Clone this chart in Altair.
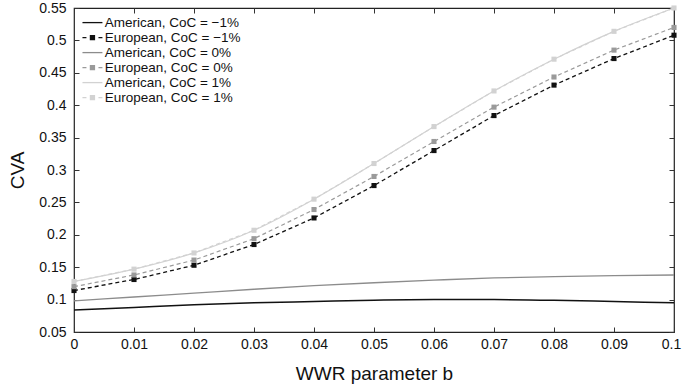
import altair as alt
import pandas as pd

# ---- data ----
b_values = [0.0, 0.01, 0.02, 0.03, 0.04, 0.05, 0.06, 0.07, 0.08, 0.09, 0.1]
american_m1 = [0.084, 0.088, 0.092, 0.095, 0.097, 0.099, 0.100, 0.100, 0.099, 0.097, 0.095]
european_m1 = [0.114, 0.131, 0.153, 0.185, 0.226, 0.276, 0.330, 0.384, 0.431, 0.472, 0.508]
american_0 = [0.098, 0.104, 0.110, 0.116, 0.1215, 0.126, 0.130, 0.1335, 0.1355, 0.137, 0.138]
european_0 = [0.120, 0.138, 0.161, 0.194, 0.239, 0.290, 0.344, 0.397, 0.4435, 0.485, 0.520]
american_p1 = [0.128, 0.147, 0.172, 0.207, 0.255, 0.310, 0.367, 0.422, 0.471, 0.514, 0.550]
european_p1 = [0.128, 0.147, 0.172, 0.207, 0.255, 0.310, 0.367, 0.422, 0.471, 0.514, 0.550]

series_names = [
    "American, CoC = \u22121%",
    "European, CoC = \u22121%",
    "American, CoC = 0%",
    "European, CoC = 0%",
    "American, CoC = 1%",
    "European, CoC = 1%",
]
series_values = [american_m1, european_m1, american_0, european_0, american_p1, european_p1]

x_ticks = [0.0, 0.01, 0.02, 0.03, 0.04, 0.05, 0.06, 0.07, 0.08, 0.09, 0.1]
y_ticks = [0.05, 0.1, 0.15, 0.2, 0.25, 0.3, 0.35, 0.4, 0.45, 0.5, 0.55]

# ---- styles ----
colors = ["#111111", "#111111", "#8c8c8c", "#9a9a9a", "#d2d2d2", "#d2d2d2"]
widths = [1.5, 1.3, 1.3, 1.2, 1.2, 1.2]
AM_PATH = "M-1,0H2.2"
EU_PATH = "M-1,0H-0.36M0.28,-0.32H0.92V0.32H0.28ZM1.56,0H2.2"
shapes = [AM_PATH, EU_PATH, AM_PATH, EU_PATH, AM_PATH, EU_PATH]
FONT = "Liberation Sans, Arial, Helvetica, sans-serif"

rows = []
for name, vals in zip(series_names, series_values):
    for b, v in zip(b_values, vals):
        rows.append({"b": b, "cva": v, "series": name})
df = pd.DataFrame(rows)

xscale = alt.Scale(domain=[0, 0.1], nice=False, zero=False)
yscale = alt.Scale(domain=[0.05, 0.55], nice=False, zero=False)

x_main = alt.X("b:Q", scale=xscale, axis=alt.Axis(
    orient="bottom", values=x_ticks, format="~g", offset=-5, tickSize=5,
    domain=False, grid=False, labelPadding=5, labelFlush=False, labelOverlap=False,
    labelOffset=alt.condition("datum.value >= 0.1", alt.value(-3), alt.value(0)),
    title="WWR parameter b", titleFontSize=19, titlePadding=13))
y_main = alt.Y("cva:Q", scale=yscale, axis=alt.Axis(
    orient="left", values=y_ticks, format="~g", offset=-5, tickSize=5,
    domain=False, grid=False, labelPadding=8, labelFlush=False, labelOverlap=False,
    title="CVA", titleFontSize=19, titlePadding=11))
x_none = alt.X("b:Q", scale=xscale, axis=None)
y_none = alt.Y("cva:Q", scale=yscale, axis=None)

layers = []
first = True
for i, name in enumerate(series_names):
    base = alt.Chart(df).transform_filter(alt.datum.series == name)
    xe, ye = (x_main, y_main) if first else (x_none, y_none)
    first = False
    if name.startswith("American"):
        layers.append(base.mark_line(color=colors[i], strokeWidth=widths[i],
                                     interpolate="monotone").encode(x=xe, y=ye))
    else:
        layers.append(base.mark_line(color=colors[i], strokeWidth=widths[i],
                                     strokeDash=[4, 3]).encode(x=xe, y=ye))
        layers.append(base.mark_square(color=colors[i], size=26, opacity=1)
                      .encode(x=x_none, y=y_none))

leg = alt.Legend(orient="none", legendX=7.7, legendY=7.6, title=None,
                 labelFontSize=13.5, labelFont=FONT, symbolSize=156,
                 symbolStrokeWidth=1.3, labelOffset=9, rowPadding=1,
                 padding=0, labelLimit=400, symbolOpacity=1)

legend_layer = alt.Chart(df).transform_filter("false").mark_point(
    filled=True, size=156, opacity=1).encode(
    x=alt.X("b:Q", scale=xscale, axis=alt.Axis(
        orient="top", values=x_ticks, offset=-5, tickSize=5, labels=False,
        domain=False, grid=False, title=None)),
    y=alt.Y("cva:Q", scale=yscale, axis=alt.Axis(
        orient="right", values=y_ticks, offset=-5, tickSize=5, labels=False,
        domain=False, grid=False, title=None)),
    color=alt.Color("series:N", scale=alt.Scale(domain=series_names, range=colors), legend=leg),
    stroke=alt.Stroke("series:N", scale=alt.Scale(domain=series_names, range=colors), legend=leg),
    shape=alt.Shape("series:N", scale=alt.Scale(domain=series_names, range=shapes), legend=leg),
)

chart = alt.layer(*layers, legend_layer).resolve_axis(
    x="independent", y="independent"
).properties(
    width=600, height=324,
    autosize=alt.AutoSizeParams(type="none"),
    padding={"left": 74, "top": 8, "right": 8, "bottom": 58},
    background="white",
).configure_view(
    stroke="#222222", strokeWidth=1.2
).configure_axis(
    labelFont=FONT, titleFont=FONT, labelFontSize=14, labelColor="#111111",
    titleColor="#111111", titleFontWeight="normal", tickColor="#333333", tickWidth=1
).configure_legend(
    labelColor="#111111"
)

chart.save("out.html", embed_options={"renderer": "svg", "actions": False})
